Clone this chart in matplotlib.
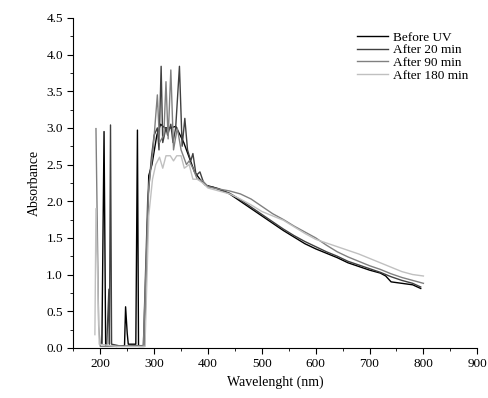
import numpy as np
import matplotlib.pyplot as plt
from matplotlib.ticker import MultipleLocator

plt.rcParams['font.family'] = ['Liberation Serif', 'DejaVu Serif']

# spectra (wavelength in nm, absorbance)
wl_before = [203, 207, 210, 215, 230, 245, 247, 250, 252, 262, 266, 269, 271, 282,
             290, 296, 305, 312, 320, 330, 340, 345, 355, 365, 375, 385, 395, 410,
             420, 440, 460, 480, 500, 520, 540, 560, 580, 600, 620, 640, 660, 680,
             700, 720, 730, 740, 760, 780, 795]
abs_before = [0.05, 2.95, 0.02, 0.03, 0.02, 0.03, 0.56, 0.2, 0.05, 0.05, 0.05, 2.97, 0.02, 0.02,
              2.35, 2.5, 2.9, 3.05, 3.0, 3.0, 3.02, 2.95, 2.8, 2.6, 2.4, 2.3, 2.22, 2.19,
              2.17, 2.1, 2.0, 1.9, 1.8, 1.7, 1.6, 1.51, 1.42, 1.35, 1.29, 1.23, 1.16, 1.11,
              1.06, 1.02, 0.98, 0.9, 0.88, 0.86, 0.81]

wl_20 = [212, 216, 217, 219, 221, 240, 260, 280, 288, 295, 300, 306, 309, 313, 316,
         322, 325, 331, 335, 340, 347, 352, 357, 362, 368, 372, 378, 385, 392, 400,
         410, 420, 440, 460, 480, 500, 520, 540, 560, 580, 600, 620, 640, 660, 680,
         700, 720, 740, 760, 780, 795]
abs_20 = [0.05, 0.8, 0.05, 3.04, 0.05, 0.02, 0.03, 0.03, 2.0, 2.6, 2.9, 3.0, 2.7, 3.84, 2.8,
          3.0, 2.9, 3.05, 2.8, 3.0, 3.84, 2.75, 3.13, 2.7, 2.55, 2.65, 2.35, 2.4, 2.25, 2.2,
          2.19, 2.16, 2.11, 2.02, 1.92, 1.82, 1.72, 1.62, 1.53, 1.45, 1.38, 1.31, 1.25, 1.18, 1.13,
          1.08, 1.03, 0.97, 0.92, 0.88, 0.83]

wl_90 = [192, 197, 200, 230, 260, 280, 290, 298, 306, 310, 318, 322, 326, 331, 336,
         343, 350, 360, 365, 372, 380, 390, 400, 410, 440, 460, 480, 500, 520, 540,
         560, 580, 600, 620, 640, 660, 680, 700, 720, 740, 760, 780, 800]
abs_90 = [2.99, 0.3, 0.02, 0.02, 0.02, 0.02, 2.2, 2.7, 3.45, 2.8, 2.9, 3.63, 2.85, 3.79, 2.7,
          3.0, 2.7, 2.5, 2.55, 2.45, 2.3, 2.28, 2.2, 2.18, 2.14, 2.1, 2.03, 1.93, 1.83, 1.75,
          1.66, 1.58, 1.5, 1.4, 1.31, 1.24, 1.18, 1.12, 1.07, 1.01, 0.96, 0.92, 0.88]

wl_180 = [190, 192, 195, 198, 230, 260, 283, 290, 297, 303, 310, 316, 322, 330, 336,
          342, 350, 356, 365, 372, 380, 390, 400, 410, 420, 440, 460, 480, 500, 520,
          540, 560, 580, 600, 620, 640, 660, 680, 700, 720, 740, 760, 780, 800]
abs_180 = [0.18, 1.9, 1.0, 0.05, 0.02, 0.02, 0.02, 1.8, 2.3, 2.5, 2.6, 2.45, 2.62, 2.62, 2.55,
           2.62, 2.62, 2.45, 2.5, 2.3, 2.3, 2.25, 2.18, 2.16, 2.14, 2.1, 2.03, 1.95, 1.86, 1.8,
           1.74, 1.65, 1.56, 1.48, 1.43, 1.38, 1.33, 1.28, 1.22, 1.16, 1.1, 1.04, 1.0, 0.98]

fig = plt.figure(figsize=(4.89, 3.98), dpi=100)
ax = fig.add_axes([0.150, 0.126, 0.826, 0.829])

ax.plot(wl_before, abs_before, color='black', lw=1.0, label='Before UV')
ax.plot(wl_20, abs_20, color='#404040', lw=1.0, label='After 20 min')
ax.plot(wl_90, abs_90, color='#808080', lw=1.0, label='After 90 min')
ax.plot(wl_180, abs_180, color='#c0c0c0', lw=1.0, label='After 180 min')

ax.set_xlim(150, 900)
ax.set_ylim(0, 4.5)
ax.xaxis.set_major_locator(MultipleLocator(100))
ax.xaxis.set_minor_locator(MultipleLocator(50))
ax.yaxis.set_major_locator(MultipleLocator(0.5))
ax.yaxis.set_minor_locator(MultipleLocator(0.25))
ax.yaxis.set_major_formatter(plt.FormatStrFormatter('%.1f'))
ax.tick_params(which='major', direction='out', length=4, labelsize=9.5)
ax.tick_params(which='minor', direction='out', length=2.5)
for s in ['top', 'right']:
    ax.spines[s].set_visible(False)

ax.set_xlabel('Wavelenght (nm)', fontsize=10)
ax.set_ylabel('Absorbance', fontsize=10)

ax.legend(loc='upper right', bbox_to_anchor=(1.007, 0.995), frameon=False, fontsize=9.5,
          handlelength=2.3, labelspacing=0.03, handletextpad=0.4)

plt.savefig('out.png', dpi=100)
